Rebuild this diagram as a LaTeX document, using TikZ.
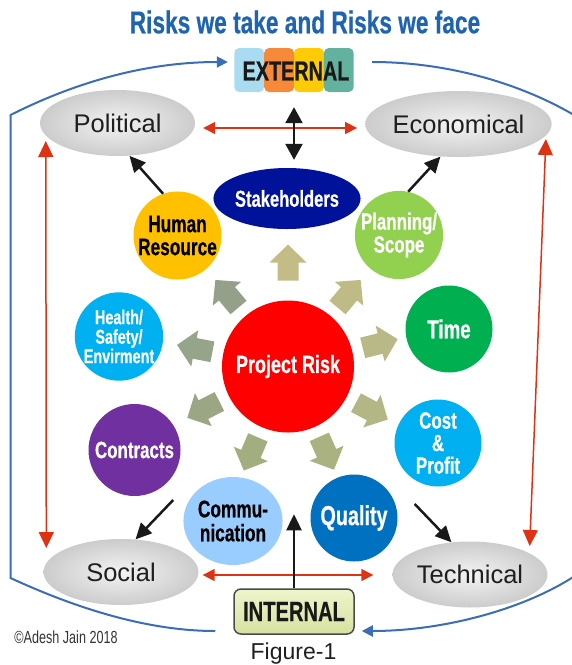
\documentclass[tikz,border=0pt]{standalone}
\usepackage{fontspec}
\setmainfont{Liberation Sans}
\newfontfamily\condb[FakeStretch=0.72, BoldFeatures={FakeBold=0.5}]{Liberation Sans}
\usepackage{tikz}
\usetikzlibrary{positioning, arrows.meta, shapes.geometric, calc}

\definecolor{titleblue}{HTML}{1F64AF}
\definecolor{extA}{HTML}{A9DBF1}
\definecolor{extB}{HTML}{F7893B}
\definecolor{extC}{HTML}{FFCB05}
\definecolor{extD}{HTML}{62B29F}
\definecolor{frameblue}{HTML}{3A6DB5}
\definecolor{redline}{HTML}{DD3214}
\definecolor{ovalin}{HTML}{F3F3F3}
\definecolor{ovalout}{HTML}{CCCCCC}
\definecolor{stakenavy}{HTML}{00129A}
\definecolor{hrgold}{HTML}{FFC000}
\definecolor{plangreen}{HTML}{92D050}
\definecolor{hseblue}{HTML}{00B0F0}
\definecolor{timegreen}{HTML}{00B050}
\definecolor{contpurple}{HTML}{7030A0}
\definecolor{costblue}{HTML}{00B0F0}
\definecolor{commblue}{HTML}{99CCFF}
\definecolor{qualblue}{HTML}{0070C0}
\definecolor{riskred}{HTML}{FF0000}
\definecolor{intTop}{HTML}{EEF5CD}
\definecolor{intBot}{HTML}{D7E1A0}
\definecolor{intEdge}{HTML}{4A4A4A}
\definecolor{arA}{HTML}{C3BC86}
\definecolor{arB}{HTML}{BEBB86}
\definecolor{arC}{HTML}{B8B986}
\definecolor{arD}{HTML}{B3B785}
\definecolor{arE}{HTML}{ABB282}
\definecolor{arF}{HTML}{A2AD80}
\definecolor{arG}{HTML}{9BA685}
\definecolor{arH}{HTML}{96A48A}
\definecolor{arI}{HTML}{95A08B}

\begin{document}
\begin{tikzpicture}[x=1pt, y=-1pt,
  bub/.style={circle, inner sep=0pt, minimum size=87pt, align=center, text=white,
    font=\condb\bfseries\fontsize{24}{23}\selectfont},
  oval/.style={ellipse, inner sep=0pt, minimum width=155pt, minimum height=66pt,
    inner color=ovalin, outer color=ovalout, text=black!88,
    font=\fontsize{25.5}{28}\selectfont},
  redarr/.style={draw=redline, line width=1.5pt,
    {Triangle[length=12pt,width=12pt]}-{Triangle[length=12pt,width=12pt]}},
  redvert/.style={draw=redline, line width=1.5pt,
    {Triangle[length=16pt,width=15pt]}-{Triangle[length=16pt,width=15pt]}},
  blkarr/.style={draw=black!90, line width=2.5pt, -{Triangle[length=16pt,width=15pt]}},
  frame/.style={draw=frameblue, line width=2pt},
  tip/.style={-{Triangle[length=11pt,width=11pt]}}]
\useasboundingbox (0,0) rectangle (572,665);

% heading
\node[text=titleblue, font=\condb\bfseries\fontsize{31.5}{32}\selectfont] (title) at (305,22)
  {Risks we take and Risks we face};

% external tab
\foreach \c [count=\i from 0] in {extA,extB,extC,extD}
  \fill[\c, rounded corners=5pt] (234.3+\i*29.85,48) rectangle ++(29.85,44);
\node[inner sep=0pt, minimum width=120pt, minimum height=44pt, text=black!90,
  font=\condb\bfseries\fontsize{27.5}{28}\selectfont] (ext) at (296,71) {EXTERNAL};

% outer factors
\node[oval] (pol) at (117.5,123) {Political};
\node[oval] (eco) at (458.5,124) {Economical};
\node[oval] (soc) at (121,572) {Social};
\node[oval] (tech) at (470,574.5) {Technical};

% risk areas
\node[ellipse, fill=stakenavy, inner sep=0pt, minimum width=118pt, minimum height=61pt,
  text=white, font=\condb\bfseries\fontsize{23}{23}\selectfont] (stake) at (287,198.5) {Stakeholders};
\node[bub, fill=hrgold, text=black] (hr) at (177.5,235.5) {Human\\Resource};
\node[bub, fill=plangreen, font=\condb\bfseries\fontsize{23.5}{23}\selectfont] (plan) at (399,235)
  {Planning/\\Scope};
\node[bub, fill=hseblue, font=\condb\bfseries\fontsize{20}{19.5}\selectfont] (hse) at (119,336.5)
  {Health/\\Safety/\\Envirment};
\node[bub, fill=timegreen, font=\condb\bfseries\fontsize{26}{26}\selectfont] (time) at (449,329) {Time};
\node[bub, fill=contpurple, minimum size=92pt, font=\condb\bfseries\fontsize{23.5}{23}\selectfont]
  (cont) at (134.5,450) {Contracts};
\node[bub, fill=costblue, font=\condb\bfseries\fontsize{23.5}{22.5}\selectfont] (cost) at (438,443)
  {Cost\\\&\\Profit};
\node[bub, ellipse, fill=commblue, text=black, minimum width=93pt, minimum height=88pt,
  font=\condb\bfseries\fontsize{24}{24}\selectfont] (comm) at (233,521) {Commu-\\nication};
\node[bub, fill=qualblue, font=\condb\bfseries\fontsize{27.5}{27}\selectfont] (qual) at (354,518) {Quality};
\node[circle, fill=riskred, inner sep=0pt, minimum size=132pt, text=white,
  font=\condb\bfseries\fontsize{25}{25}\selectfont] (risk) at (288,366.5) {Project Risk};

% block arrows round the centre
\foreach \a/\d/\c in {90/122/arA, 50/113/arB, 14/113/arC, -28/113/arD, -66/113/arE,
                      -113/113/arF, -153/113/arG, 169/113/arH, 130/113/arI}
  \fill[\c, shift={(risk.center)}, rotate=\a]
    ({\d-36},-10.5) -- ({\d-18},-10.5) -- ({\d-18},-18.5) -- (\d,0)
    -- ({\d-18},18.5) -- ({\d-18},10.5) -- ({\d-36},10.5) -- cycle;

% internal tab
\node[draw=intEdge, line width=1.5pt, rounded corners=7pt, top color=intTop, bottom color=intBot,
  inner sep=0pt, minimum width=120pt, minimum height=45pt, text=black!90,
  font=\condb\bfseries\fontsize{28}{28}\selectfont] (int) at (294,611.5) {INTERNAL};

\node[text=black!80, font=\condb\fontsize{17.5}{18}\selectfont] (copy) at (66,637) {©Adesh Jain 2018};
\node[text=black!88, font=\fontsize{23}{25}\selectfont] (fig) at (293.5,654) {Figure-1};

% links
\draw[redarr] ([shift={(8,5)}]pol.east) -- ([shift={(-8,4)}]eco.west);
\draw[redarr] ([shift={(4,3)}]soc.east) -- ([shift={(-19,0.5)}]tech.west);
\draw[redvert] ([shift={(6,18)}]pol.west) -- ([shift={(3,-24)}]soc.west);
\draw[redvert] ([shift={(-6,15)}]eco.east) -- ([shift={(-18,-28.5)}]tech.east);

\draw[blkarr, {Triangle[length=16pt,width=17pt]}-{Triangle[length=16pt,width=17pt]}]
  ([shift={(-2,14)}]ext.south) -- ([shift={(7,-8)}]stake.north);
\draw[blkarr] (hr.109) -- (pol.-70);
\draw[blkarr] (plan.78) -- (eco.-119);
\draw[blkarr] ([shift={(-7.5,50)}]cont.east) -- (soc.66);
\draw[blkarr] ([shift={(17,-14)}]qual.east) -- (tech.120);
\draw[blkarr] (int.north) -- ++(0,-74);

% frame
\begin{scope}
\clip (0,0) rectangle (572,665);
\draw[frame, tip] ([shift={(-18,19.5)}]int.west) .. controls (150,631) and (80,610) .. (10.5,578)
  -- (10.5,115) .. controls (80,80) and (150,62) .. ([shift={(-8,-9)}]ext.west);
\draw[frame, tip] ([shift={(16,-9)}]ext.east) .. controls (450,62) and (530,85) .. (590,125)
  -- (590,565) .. controls (540,605) and (450,631) .. ([shift={(7,19.5)}]int.east);
\end{scope}
\end{tikzpicture}
\end{document}
